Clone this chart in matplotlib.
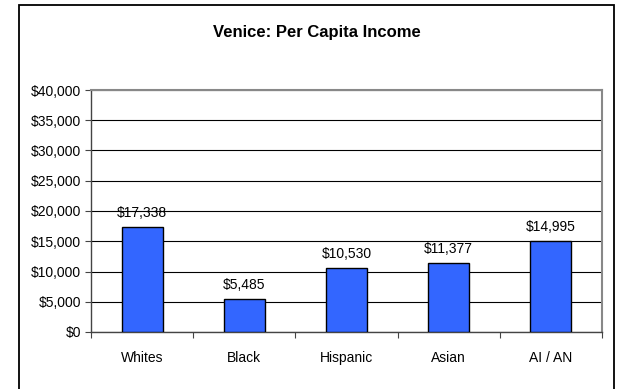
import matplotlib.pyplot as plt
import matplotlib.patches as patches
import numpy as np
from matplotlib.ticker import FuncFormatter

plt.rcParams['font.family'] = ['Liberation Sans', 'DejaVu Sans']

# Per capita income by group
groups = ["Whites", "Black", "Hispanic", "Asian", "AI / AN"]
income = [17338, 5485, 10530, 11377, 14995]
y_ticks = [0, 5000, 10000, 15000, 20000, 25000, 30000, 35000, 40000]

W, H = 620, 389
fig = plt.figure(figsize=(W / 100, H / 100), dpi=100)
ax = fig.add_axes([91 / W, 1 - 332 / H, (602 - 91) / W, (332 - 90) / H])

x = np.arange(len(groups))
bars = ax.bar(x, income, width=0.4, color="#3366FF", edgecolor="black", linewidth=1.0, zorder=3)

for b, v in zip(bars, income):
    ax.annotate(f"${v:,}", (b.get_x() + b.get_width() / 2, v), xytext=(0, 5),
                textcoords="offset points", ha="center", va="bottom", fontsize=10)

ax.set_xlim(-0.5, len(groups) - 0.5)
ax.set_ylim(0, 40000)
ax.set_yticks(y_ticks)
ax.yaxis.set_major_formatter(FuncFormatter(lambda v, p: f"${int(v):,}"))
ax.grid(axis="y", color="black", linewidth=0.8, zorder=0)

# category labels centred, tick marks on the boundaries
ax.set_xticks(np.arange(-0.5, len(groups)))
ax.set_xticklabels([])
ax.set_xticks(x, minor=True)
ax.set_xticklabels(groups, minor=True, fontsize=10)
ax.tick_params(axis="x", which="major", direction="out", length=4, width=0.8, color="#444444")
ax.tick_params(axis="x", which="minor", length=0, pad=14)
ax.tick_params(axis="y", direction="out", length=4, width=0.8, pad=3, labelsize=10, color="#444444")

for side in ["top", "right"]:
    ax.spines[side].set_color("#888888")
    ax.spines[side].set_linewidth(1.5)
for side in ["left", "bottom"]:
    ax.spines[side].set_color("#444444")
    ax.spines[side].set_linewidth(1.0)

fig.text(317 / W, 1 - 32 / H, "Venice: Per Capita Income", ha="center", va="center",
         fontsize=12, fontweight="bold")

# chart border
fig.patches.append(patches.Rectangle((19 / W, -0.05), (614 - 19) / W, 1.05 - 5 / H,
                                     transform=fig.transFigure, fill=False,
                                     edgecolor="black", linewidth=1.3))

fig.savefig("out.png", dpi=100)
